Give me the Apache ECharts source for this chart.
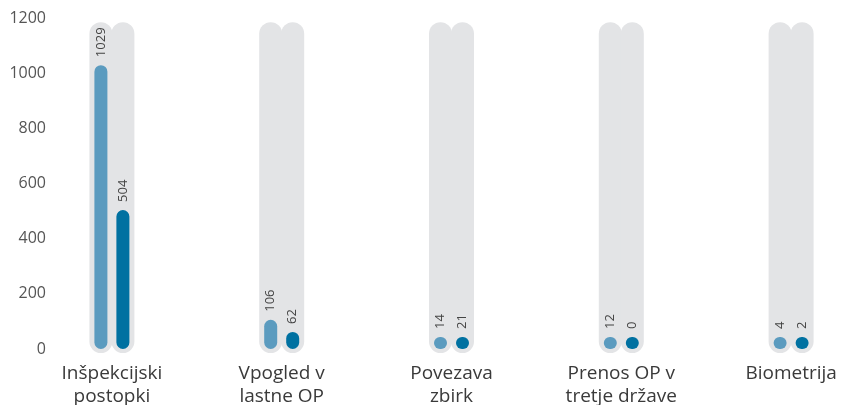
<!DOCTYPE html>
<html><head><meta charset="utf-8">
<script src="https://cdn.jsdelivr.net/npm/echarts@6/dist/echarts.min.js"></script>
<style>html,body{margin:0;padding:0;background:#fff}#c{width:841px;height:405px}</style>
</head><body><div id="c"></div>
<script>
const categories = ['Inšpekcijski\npostopki', 'Vpogled v\nlastne OP', 'Povezava\nzbirk', 'Prenos OP v\ntretje države', 'Biometrija'];
const seriesA = [1029, 106, 14, 12, 4];
const seriesB = [504, 62, 21, 0, 2];
const trackValues = [1185, 1185, 1185, 1185, 1185];
const yTicks = [0, 200, 400, 600, 800, 1000, 1200];

const FONT = 'Open Sans';
const grey = '#e3e4e6';
const lightBlue = '#5b9bbf';
const darkBlue = '#0071a1';

const chart = echarts.init(document.getElementById('c'), null, {renderer: 'canvas'});
const lbl = {
  show: true, position: 'top', rotate: 90, align: 'left', verticalAlign: 'middle',
  distance: 8, color: '#444', fontSize: 13, fontFamily: FONT
};
function renderTrack(params, api) {
  const i = api.value(0);
  const top = api.coord([i, api.value(1)]);
  const base = api.coord([i, 0]);
  const w = 23, off = 11, pad = 4;
  const h = base[1] + pad - top[1];
  const mk = (cx) => ({
    type: 'rect',
    shape: {x: cx - w / 2, y: top[1], width: w, height: h, r: w / 2},
    style: {fill: grey}
  });
  return {type: 'group', children: [mk(top[0] - off), mk(top[0] + off)]};
}
chart.setOption({
  animation: false,
  grid: {left: 27, right: -35, top: 18, bottom: 56, containLabel: false, outerBoundsMode: 'none'},
  xAxis: [
    {type: 'category', data: categories, axisLine: {show: false}, axisTick: {show: false},
     axisLabel: {color: '#3a3a3a', fontSize: 19, fontFamily: FONT, lineHeight: 23, margin: 13, interval: 0}},
    {type: 'category', data: categories, show: false}
  ],
  yAxis: {
    type: 'value', min: yTicks[0], max: yTicks[yTicks.length - 1], interval: 200,
    splitLine: {show: false}, axisLine: {show: false}, axisTick: {show: false},
    axisLabel: {color: '#555', fontSize: 16, fontFamily: FONT, margin: -19, align: 'right',
                formatter: (v) => String(v)}
  },
  series: [
    {type: 'custom', xAxisIndex: 0, data: trackValues.map((v, i) => [i, v]),
     encode: {x: 0, y: 1}, renderItem: renderTrack, clip: false, silent: true, z: 1},
    {type: 'bar', xAxisIndex: 1, data: seriesA, barWidth: 13, barGap: '69.2%', barMinHeight: 12,
     itemStyle: {color: lightBlue, borderRadius: 6.5}, label: lbl, z: 3},
    {type: 'bar', xAxisIndex: 1, data: seriesB, barWidth: 13, barMinHeight: 12,
     itemStyle: {color: darkBlue, borderRadius: 6.5}, label: lbl, z: 3}
  ]
});
</script></body></html>
